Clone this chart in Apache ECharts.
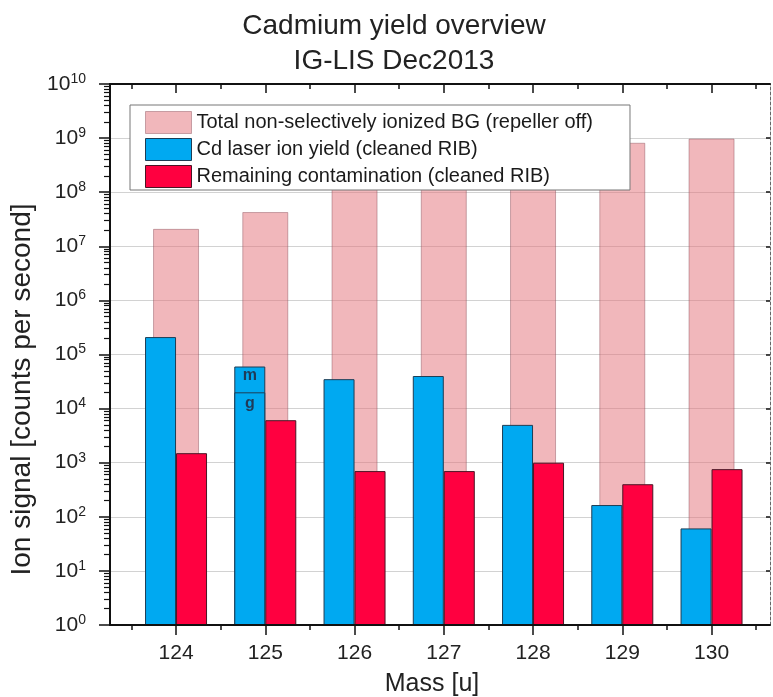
<!DOCTYPE html>
<html>
<head>
<meta charset="utf-8">
<script src="https://cdn.jsdelivr.net/npm/echarts@6/dist/echarts.min.js"></script>
<style>
  html, body { margin: 0; padding: 0; background: #ffffff; }
  #chart { width: 773px; height: 697px; }
</style>
</head>
<body>
<div id="chart"></div>
<script>
// Isotope masses (u)
const masses = [124, 125, 126, 127, 128, 129, 130];
// Total non-selectively ionized background, repeller off (counts/s)
const totalBackground = [2.1e7, 4.3e7, 1.15e8, 1.15e8, 1.15e8, 8.2e8, 9.8e8];
// Cd laser ion yield, cleaned RIB (counts/s), ground + isomer
const cdYield = [2.1e5, 6.0e4, 3.5e4, 4.0e4, 5.0e3, 165, 61];
// Ground-state share where the isomer was resolved (125Cd)
const cdGround = [null, 2.0e4, null, null, null, null, null];
// Remaining contamination, cleaned RIB (counts/s)
const contamination = [1.5e3, 6.1e3, 700, 700, 1000, 400, 760];
// Axis tick values
const decadeTicks = [1, 10, 100, 1e3, 1e4, 1e5, 1e6, 1e7, 1e8, 1e9, 1e10];
const halfTicks = masses.map(m => m - 0.5).concat([masses[masses.length - 1] + 0.5]);
const minorLogTicks = [];
for (let e = 0; e < 10; e++) {
  for (let k = 2; k <= 9; k++) minorLogTicks.push(k * Math.pow(10, e));
}

const FONT = '"Liberation Sans", Arial, Helvetica, sans-serif';
const X_MIN = 123.26, X_MAX = 130.655;

const PINK = 'rgba(228,112,120,0.5)';
const PINK_EDGE = 'rgba(140,80,90,0.45)';
const BLUE = '#00a9f1';
const BLUE_EDGE = '#1d3d55';
const RED = '#ff0040';
const RED_EDGE = '#4a1525';

const NAME_BG = 'Total non-selectively ionized BG (repeller off)';
const NAME_CD = 'Cd laser ion yield (cleaned RIB)';
const NAME_RC = 'Remaining contamination (cleaned RIB)';

function pairs(vals) {
  return masses.map((m, i) => [m, vals[i] == null ? null : vals[i]]);
}

const xBase = { type: 'value', min: X_MIN, max: X_MAX, gridIndex: 0, splitLine: { show: false } };
const yBase = { type: 'log', logBase: 10, min: 1, max: 1e10, splitNumber: 10, gridIndex: 0 };
const markLabel = { fontFamily: FONT, fontSize: 16, fontWeight: 'bold', color: '#1f3a58' };

const chart = echarts.init(document.getElementById('chart'), null, { renderer: 'canvas' });
chart.setOption({
  backgroundColor: '#ffffff',
  animation: false,
  title: {
    text: 'Cadmium yield overview\nIG-LIS Dec2013',
    left: 389,
    top: 4,
    textAlign: 'center',
    textStyle: { fontFamily: FONT, fontSize: 28, fontWeight: 'normal', color: '#222', lineHeight: 35 }
  },
  legend: {
    orient: 'vertical',
    left: 130,
    top: 105,
    padding: [6, 37, 2, 15],
    itemWidth: 46,
    itemHeight: 22,
    itemGap: 4,
    backgroundColor: '#ffffff',
    borderColor: '#777',
    borderWidth: 1,
    borderRadius: 0,
    selectedMode: false,
    textStyle: { fontFamily: FONT, fontSize: 20, color: '#1a1a1a' },
    data: [
      { name: NAME_BG, icon: 'rect', itemStyle: { color: PINK, borderColor: PINK_EDGE, borderWidth: 1 } },
      { name: NAME_CD, icon: 'rect', itemStyle: { color: BLUE, borderColor: BLUE_EDGE, borderWidth: 1 } },
      { name: NAME_RC, icon: 'rect', itemStyle: { color: RED, borderColor: RED_EDGE, borderWidth: 1 } }
    ]
  },
  grid: { left: 110, right: 3, top: 84, bottom: 72, containLabel: false, outerBoundsMode: 'none' },
  xAxis: [
    // 0: bottom axis with mass labels
    Object.assign({}, xBase, {
      position: 'bottom', z: 5,
      name: 'Mass [u]', nameLocation: 'middle', nameGap: 47,
      nameTextStyle: { fontFamily: FONT, fontSize: 25, color: '#222', padding: [0, 16, 0, 0] },
      axisLine: { show: true, lineStyle: { color: '#111', width: 2 } },
      axisTick: { show: true, customValues: masses, length: 10, inside: false, lineStyle: { color: '#111', width: 1.5 } },
      axisLabel: { show: true, customValues: masses, margin: 18, fontFamily: FONT, fontSize: 21, color: '#222' }
    }),
    // 1: bottom half-mass ticks
    Object.assign({}, xBase, {
      position: 'bottom', z: 5,
      axisLine: { show: false },
      axisTick: { show: true, customValues: halfTicks, length: 5, inside: false, lineStyle: { color: '#111', width: 1.5 } },
      axisLabel: { show: false }
    }),
    // 2: top frame with inward ticks
    Object.assign({}, xBase, {
      position: 'top', z: 5,
      axisLine: { show: true, lineStyle: { color: '#111', width: 2 } },
      axisTick: { show: true, customValues: masses, length: 9, inside: true, lineStyle: { color: '#111', width: 1.5 } },
      axisLabel: { show: false }
    }),
    // 3: top half-mass ticks
    Object.assign({}, xBase, {
      position: 'top', z: 5,
      axisLine: { show: false },
      axisTick: { show: true, customValues: halfTicks, length: 5, inside: true, lineStyle: { color: '#111', width: 1.5 } },
      axisLabel: { show: false }
    }),
    // 4: carrier for the background bars (centred on each mass)
    Object.assign({}, xBase, { show: false }),
    // 5: carrier for the ground-state overlay (same slot as the yield bars)
    Object.assign({}, xBase, { show: false })
  ],
  yAxis: [
    // 0: left axis, decade labels and grid lines
    Object.assign({}, yBase, {
      position: 'left',
      name: 'Ion signal [counts per second]', nameLocation: 'middle', nameGap: 67,
      nameTextStyle: { fontFamily: FONT, fontSize: 28, color: '#222', padding: [0, 70, 0, 0] },
      axisLine: { show: true, lineStyle: { color: '#111', width: 2 } },
      axisTick: { show: true, customValues: decadeTicks, length: 11, inside: false, lineStyle: { color: '#111', width: 1.5 } },
      axisLabel: {
        show: true, customValues: decadeTicks, margin: 24,
        formatter: v => '{b|10}{e|' + Math.round(Math.log10(v)) + '}',
        rich: {
          b: { fontFamily: FONT, fontSize: 21, color: '#222', lineHeight: 24, verticalAlign: 'middle' },
          e: { fontFamily: FONT, fontSize: 14, color: '#222', lineHeight: 14, verticalAlign: 'top' }
        }
      },
      splitLine: { show: true, lineStyle: { color: '#d2d2d2', width: 1 } }
    }),
    // 1: left minor ticks (2..9 per decade)
    Object.assign({}, yBase, {
      position: 'left', z: 5,
      axisLine: { show: false },
      axisTick: { show: true, customValues: minorLogTicks, length: 6, inside: false, lineStyle: { color: '#111', width: 1.2 } },
      axisLabel: { show: false },
      splitLine: { show: false }
    }),
    // 2: right frame
    Object.assign({}, yBase, {
      position: 'right', z: 5,
      axisLine: { show: true, lineStyle: { color: '#666', width: 1, type: [3, 2] } },
      axisTick: { show: true, customValues: decadeTicks, length: 4, inside: true, lineStyle: { color: '#111', width: 1.5 } },
      axisLabel: { show: false },
      splitLine: { show: false }
    })
  ],
  series: [
    {
      name: NAME_BG, type: 'bar', xAxisIndex: 4, yAxisIndex: 0, z: 2,
      barWidth: 46,
      itemStyle: { color: PINK, borderColor: PINK_EDGE, borderWidth: 1 },
      data: pairs(totalBackground)
    },
    {
      name: NAME_CD, type: 'bar', xAxisIndex: 0, yAxisIndex: 0, z: 3,
      barWidth: 31, barGap: '0%',
      itemStyle: { color: BLUE, borderColor: BLUE_EDGE, borderWidth: 1 },
      label: Object.assign({
        show: true, position: 'insideTop', distance: 1,
        formatter: p => (cdGround[p.dataIndex] != null ? 'm' : '')
      }, markLabel),
      data: pairs(cdYield)
    },
    {
      name: NAME_RC, type: 'bar', xAxisIndex: 0, yAxisIndex: 0, z: 3,
      barWidth: 31, barGap: '0%',
      itemStyle: { color: RED, borderColor: RED_EDGE, borderWidth: 1 },
      data: pairs(contamination)
    },
    // Ground-state part of the yield, drawn over the yield bar
    {
      name: NAME_CD, type: 'bar', xAxisIndex: 5, yAxisIndex: 0, z: 4,
      barWidth: 31, barGap: '0%',
      itemStyle: { color: BLUE, borderColor: BLUE_EDGE, borderWidth: 1 },
      label: Object.assign({ show: true, position: 'insideTop', distance: 3, formatter: 'g' }, markLabel),
      data: pairs(cdGround)
    },
    // Empty partner that keeps the overlay in the left-hand slot
    {
      name: NAME_RC, type: 'bar', xAxisIndex: 5, yAxisIndex: 0, z: 4,
      barWidth: 31, barGap: '0%',
      itemStyle: { color: RED },
      data: pairs(masses.map(() => null))
    }
  ]
});
</script>
</body>
</html>
